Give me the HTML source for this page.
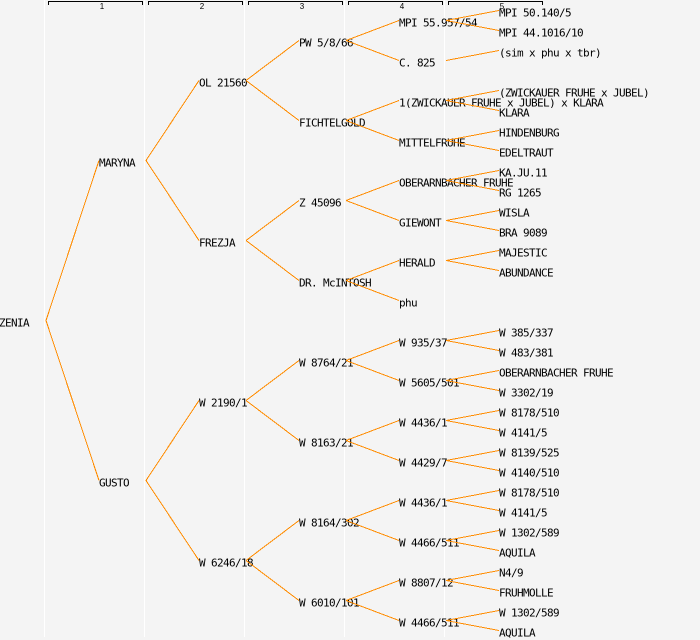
<!DOCTYPE html>
<html><head><meta charset="utf-8"><style>
html,body{margin:0;padding:0;background:#f4f4f4;}
svg{display:block;}
.t{font-family:"DejaVu Sans Mono","Liberation Mono",monospace;font-size:11px;letter-spacing:-0.62px;fill:#000;}
.h{font-family:"Liberation Sans",sans-serif;font-size:8px;fill:#000;}
</style></head><body>
<svg width="700" height="640" viewBox="0 0 700 640" xmlns="http://www.w3.org/2000/svg">
<rect width="700" height="640" fill="#f4f4f4"/>
<g stroke="#ffffff" stroke-width="1">
<line x1="44.5" y1="0" x2="44.5" y2="637"/>
<line x1="144.5" y1="0" x2="144.5" y2="637"/>
<line x1="244.5" y1="0" x2="244.5" y2="637"/>
<line x1="344.5" y1="0" x2="344.5" y2="637"/>
<line x1="444.5" y1="0" x2="444.5" y2="637"/>
</g>
<g stroke="#000" stroke-width="1" fill="none">
<path d="M48.5 5V1.5H142.5V5"/>
<path d="M148.5 5V1.5H242.5V5"/>
<path d="M248.5 5V1.5H342.5V5"/>
<path d="M348.5 5V1.5H442.5V5"/>
<path d="M448.5 5V1.5H542.5V5"/>
</g>
<g class="h" text-anchor="middle">
<text x="102" y="9">1</text>
<text x="202" y="9">2</text>
<text x="302" y="9">3</text>
<text x="402" y="9">4</text>
<text x="502" y="9">5</text>
</g>
<g class="t">
<text x="-1" y="326.5">ZENIA</text>
<text x="99" y="166.5">MARYNA</text>
<text x="99" y="486.5">GUSTO</text>
<text x="199" y="86.5">OL 21560</text>
<text x="199" y="246.5">FREZJA</text>
<text x="199" y="406.5">W 2190/1</text>
<text x="199" y="566.5">W 6246/18</text>
<text x="299" y="46.5">PW 5/8/66</text>
<text x="299" y="126.5">FICHTELGOLD</text>
<text x="299" y="206.5">Z 45096</text>
<text x="299" y="286.5">DR. McINTOSH</text>
<text x="299" y="366.5">W 8764/21</text>
<text x="299" y="446.5">W 8163/21</text>
<text x="299" y="526.5">W 8164/302</text>
<text x="299" y="606.5">W 6010/101</text>
<text x="399" y="26.5">MPI 55.957/54</text>
<text x="399" y="66.5">C. 825</text>
<text x="399" y="106.5">1(ZWICKAUER FRUHE x JUBEL) x KLARA</text>
<text x="399" y="146.5">MITTELFRUHE</text>
<text x="399" y="186.5">OBERARNBACHER FRUHE</text>
<text x="399" y="226.5">GIEWONT</text>
<text x="399" y="266.5">HERALD</text>
<text x="399" y="306.5">phu</text>
<text x="399" y="346.5">W 935/37</text>
<text x="399" y="386.5">W 5605/501</text>
<text x="399" y="426.5">W 4436/1</text>
<text x="399" y="466.5">W 4429/7</text>
<text x="399" y="506.5">W 4436/1</text>
<text x="399" y="546.5">W 4466/511</text>
<text x="399" y="586.5">W 8807/12</text>
<text x="399" y="626.5">W 4466/511</text>
<text x="499" y="16.5">MPI 50.140/5</text>
<text x="499" y="36.5">MPI 44.1016/10</text>
<text x="499" y="56.5">(sim x phu x tbr)</text>
<text x="499" y="96.5">(ZWICKAUER FRUHE x JUBEL)</text>
<text x="499" y="116.5">KLARA</text>
<text x="499" y="136.5">HINDENBURG</text>
<text x="499" y="156.5">EDELTRAUT</text>
<text x="499" y="176.5">KA.JU.11</text>
<text x="499" y="196.5">RG 1265</text>
<text x="499" y="216.5">WISLA</text>
<text x="499" y="236.5">BRA 9089</text>
<text x="499" y="256.5">MAJESTIC</text>
<text x="499" y="276.5">ABUNDANCE</text>
<text x="499" y="336.5">W 385/337</text>
<text x="499" y="356.5">W 483/381</text>
<text x="499" y="376.5">OBERARNBACHER FRUHE</text>
<text x="499" y="396.5">W 3302/19</text>
<text x="499" y="416.5">W 8178/510</text>
<text x="499" y="436.5">W 4141/5</text>
<text x="499" y="456.5">W 8139/525</text>
<text x="499" y="476.5">W 4140/510</text>
<text x="499" y="496.5">W 8178/510</text>
<text x="499" y="516.5">W 4141/5</text>
<text x="499" y="536.5">W 1302/589</text>
<text x="499" y="556.5">AQUILA</text>
<text x="499" y="576.5">N4/9</text>
<text x="499" y="596.5">FRUHMOLLE</text>
<text x="499" y="616.5">W 1302/589</text>
<text x="499" y="636.5">AQUILA</text>
</g>
<path fill="none" stroke="#ff8c00" stroke-width="1" shape-rendering="crispEdges" d="
M46 320.5L99 160.5M46 320.5L99 480.5
M146 160.5L199 80.5M146 160.5L199 240.5M146 480.5L199 400.5M146 480.5L199 560.5
M246 80.5L299 40.5M246 80.5L299 120.5M246 240.5L299 200.5M246 240.5L299 280.5
M246 400.5L299 360.5M246 400.5L299 440.5M246 560.5L299 520.5M246 560.5L299 600.5
M346 40.5L399 20.5M346 40.5L399 60.5
M346 120.5L399 100.5M346 120.5L399 140.5
M346 200.5L399 180.5M346 200.5L399 220.5
M346 280.5L399 260.5M346 280.5L399 300.5
M346 360.5L399 340.5M346 360.5L399 380.5
M346 440.5L399 420.5M346 440.5L399 460.5
M346 520.5L399 500.5M346 520.5L399 540.5
M346 600.5L399 580.5M346 600.5L399 620.5
M446 20.5L499 10.5M446 20.5L499 30.5
M446 60.5L499 50.5
M446 100.5L499 90.5M446 100.5L499 110.5
M446 140.5L499 130.5M446 140.5L499 150.5
M446 180.5L499 170.5M446 180.5L499 190.5
M446 220.5L499 210.5M446 220.5L499 230.5
M446 260.5L499 250.5M446 260.5L499 270.5
M446 340.5L499 330.5M446 340.5L499 350.5
M446 380.5L499 370.5M446 380.5L499 390.5
M446 420.5L499 410.5M446 420.5L499 430.5
M446 460.5L499 450.5M446 460.5L499 470.5
M446 500.5L499 490.5M446 500.5L499 510.5
M446 540.5L499 530.5M446 540.5L499 550.5
M446 580.5L499 570.5M446 580.5L499 590.5
M446 620.5L499 610.5M446 620.5L499 630.5"/>
</svg>
</body></html>
